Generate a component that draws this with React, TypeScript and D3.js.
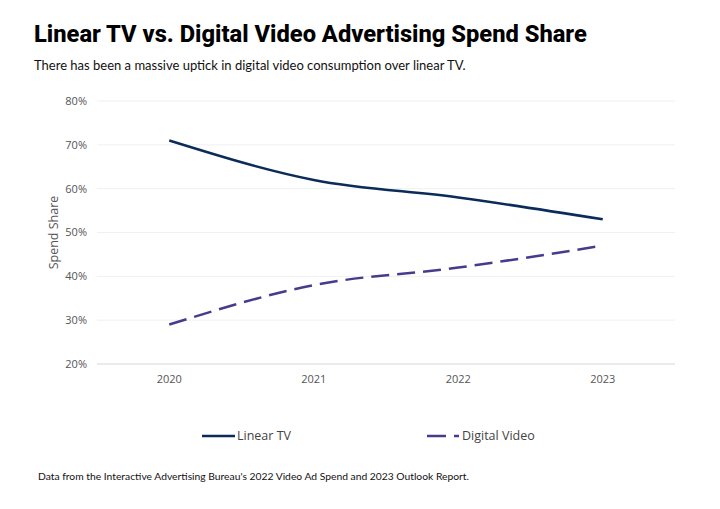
import React from "react";
import * as d3 from "d3";

const years = ["2020", "2021", "2022", "2023"];
const linearTV = [71, 62, 58, 53];
const digitalVideo = [29, 38, 42, 47];
const yTicks = [20, 30, 40, 50, 60, 70, 80];

const W = 720, H = 509;
const left = 97, right = 675, top = 101, bottom = 364;

export default function App() {
  const x = d3.scalePoint<string>().domain(years).range([left, right]).padding(0.5);
  const y = d3.scaleLinear().domain([20, 80]).range([bottom, top]);
  const line = d3.line<number>().x((_, i) => x(years[i])!).y(d => y(d)).curve(d3.curveMonotoneX);
  const font = "Lato, 'Open Sans', sans-serif";
  const axisFont = "'Open Sans', sans-serif";
  return (
    <svg width={W} height={H} style={{ position: "absolute", left: 0, top: 0, background: "#fff" }} fontFamily={font}>
      <rect width={W} height={H} fill="#fff" />
      <text x={34} y={42} fontSize={23.7} fontWeight={800} fill="#000" fontFamily="Roboto, sans-serif">Linear TV vs. Digital Video Advertising Spend Share</text>
      <text x={34} y={70} fontSize={13} fill="#111">There has been a massive uptick in digital video consumption over linear TV.</text>
      {yTicks.map(t => (
        <g key={t}>
          <line x1={left} x2={right} y1={y(t)} y2={y(t)} stroke={t === 20 ? "#d6d6d6" : "#f0f0f0"} strokeWidth={1} />
          <text x={87} y={y(t)} dy="0.35em" textAnchor="end" fontSize={11} fill="#555" fontFamily={axisFont}>{t}%</text>
        </g>
      ))}
      {years.map(yr => (
        <text key={yr} x={x(yr)} y={383} textAnchor="middle" fontSize={11} fill="#555" fontFamily={axisFont}>{yr}</text>
      ))}
      <text transform={`translate(58,${(top + bottom) / 2}) rotate(-90)`} textAnchor="middle" fontSize={12.5} fill="#555" fontFamily={axisFont}>Spend Share</text>
      <path d={line(linearTV)!} fill="none" stroke="#0b2b5b" strokeWidth={2.5} />
      <path d={line(digitalVideo)!} fill="none" stroke="#4a3a8c" strokeWidth={2.5} strokeDasharray="18,8" />
      <line x1={202} x2={235} y1={436} y2={436} stroke="#0b2b5b" strokeWidth={2.5} />
      <text x={237} y={436} dy="0.35em" fontSize={12.5} fill="#444" fontFamily={axisFont}>Linear TV</text>
      <line x1={427} x2={459} y1={436} y2={436} stroke="#4a3a8c" strokeWidth={2.5} strokeDasharray="19,8" />
      <text x={462} y={436} dy="0.35em" fontSize={12.5} fill="#444" fontFamily={axisFont}>Digital Video</text>
      <text x={38} y={480} fontSize={10.3} fill="#111">Data from the Interactive Advertising Bureau's 2022 Video Ad Spend and 2023 Outlook Report.</text>
    </svg>
  );
}
